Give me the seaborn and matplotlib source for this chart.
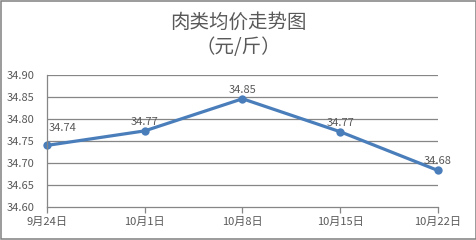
import matplotlib
matplotlib.use("Agg")
import matplotlib.pyplot as plt
import seaborn as sns
import pandas as pd
from matplotlib.patches import Rectangle

dates = ["9月24日", "10月1日", "10月8日", "10月15日", "10月22日"]
prices = [34.74, 34.773, 34.846, 34.771, 34.683]
label_texts = ["34.74", "34.77", "34.85", "34.77", "34.68"]
y_ticks = [34.60, 34.65, 34.70, 34.75, 34.80, 34.85, 34.90]

sns.set_theme(style="white")
plt.rcParams['font.family'] = ['Noto Sans CJK SC', 'DejaVu Sans']

df = pd.DataFrame({"pos": list(range(len(dates))), "price": prices})

fig = plt.figure(figsize=(4.77, 2.40), dpi=100)
ax = fig.add_axes([47/477, 1-207/240, (438-47)/477, (207-75)/240])

grid_c = "#868686"
text_c = "#595959"
line_c = "#4A7EBB"

sns.lineplot(data=df, x="pos", y="price", ax=ax, color=line_c, linewidth=2.3,
             marker="o", markersize=6, markeredgewidth=0, clip_on=False)

ax.set_xlim(0, len(dates)-1)
ax.set_ylim(y_ticks[0], y_ticks[-1])
ax.set_yticks(y_ticks)
ax.set_yticklabels([f"{v:.2f}" for v in y_ticks])
ax.set_xticks(list(range(len(dates))))
ax.set_xticklabels(dates)
ax.set_xlabel("")
ax.set_ylabel("")
for v in y_ticks[1:]:
    ax.axhline(v, color=grid_c, linewidth=0.9, zorder=0)

for s in ["top", "right"]:
    ax.spines[s].set_visible(False)
for s in ["left", "bottom"]:
    ax.spines[s].set_color(grid_c)
    ax.spines[s].set_linewidth(0.9)

ax.tick_params(axis="y", length=0, pad=9, labelsize=8, labelcolor=text_c)
ax.tick_params(axis="x", length=4, width=0.9, color=grid_c, pad=3, labelsize=8, labelcolor=text_c, direction="out")
ax.tick_params(axis="x", bottom=True)

for i, (v, t) in enumerate(zip(prices, label_texts)):
    if i == 0:
        ax.annotate(t, (i, v), xytext=(1, 9), textcoords="offset points",
                    ha="left", va="bottom", fontsize=8, color=text_c)
    else:
        ax.annotate(t, (i, v), xytext=(0, 3), textcoords="offset points",
                    ha="center", va="bottom", fontsize=8, color=text_c)

fig.text(0.5, 1-22/240, "肉类均价走势图", ha="center", va="center", fontsize=14, color=text_c)
fig.text(0.5, 1-47/240, "（元/斤）", ha="center", va="center", fontsize=14, color=text_c)

W, H = 477, 240
fig.add_artist(Rectangle((1/W, 1/H), 1-2/W, 1-2/H, transform=fig.transFigure,
                         fill=False, edgecolor="#808080", linewidth=1.1))

fig.savefig("out.png", dpi=100)
